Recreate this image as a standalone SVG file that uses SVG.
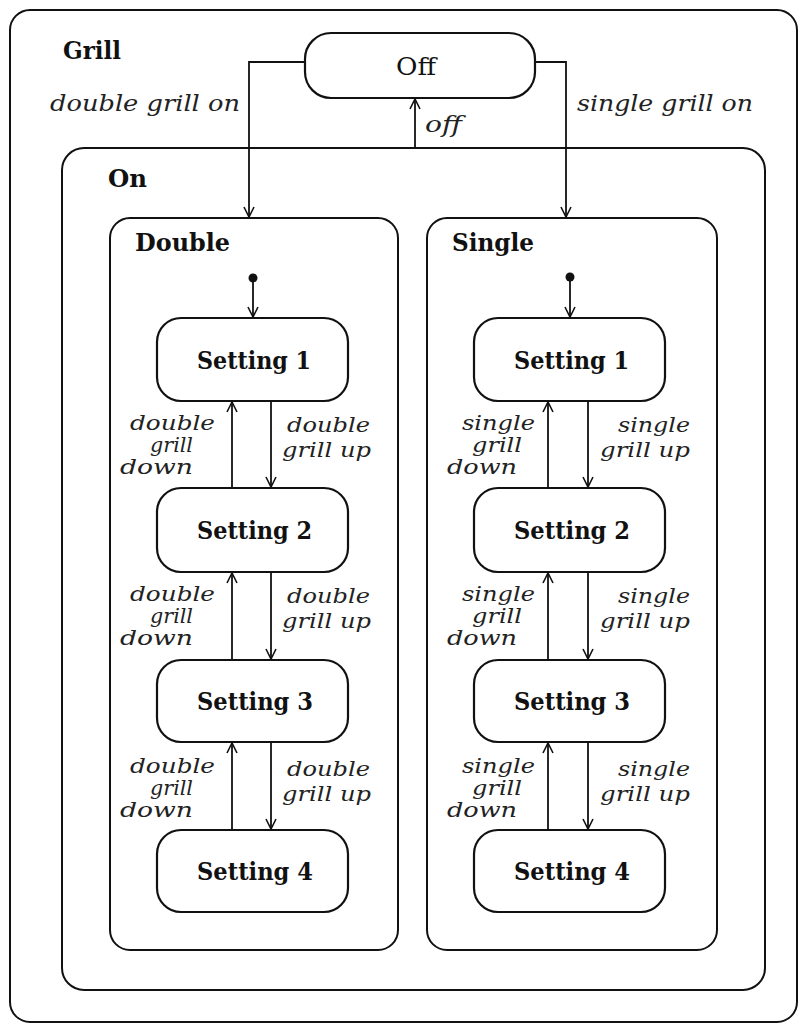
<svg xmlns="http://www.w3.org/2000/svg" width="806" height="1027" viewBox="0 0 806 1027">
<style>
.box{fill:none;stroke:#111;stroke-width:2}
.st{fill:#fff;stroke:#111;stroke-width:2.2}
.ln{fill:none;stroke:#111;stroke-width:1.8}
.nm{font-family:"DejaVu Serif","Liberation Serif",serif;font-weight:bold;font-size:24px;fill:#111}
.of{font-family:"DejaVu Serif","Liberation Serif",serif;font-size:25px;fill:#111}
.hd{font-family:"DejaVu Serif","Liberation Serif",serif;font-weight:bold;font-size:25px;fill:#111}
.lb{font-family:"DejaVu Serif","Liberation Serif",serif;font-style:italic;font-size:21px;fill:#222}
.lt{font-family:"DejaVu Serif","Liberation Serif",serif;font-style:italic;font-size:22px;fill:#222}
</style>
<defs>
<marker id="arr" viewBox="0 0 12 12" refX="11" refY="6" markerWidth="12" markerHeight="12" markerUnits="userSpaceOnUse" orient="auto">
<path d="M1,1 L11,6 L1,11" fill="none" stroke="#111" stroke-width="1.6"/>
</marker>
</defs>
<rect width="806" height="1027" fill="#fff"/>
<g id="grill"><rect class="box" x="10" y="10" width="787" height="1012" rx="20"/><text class="hd" x="63" y="59" textLength="58" lengthAdjust="spacingAndGlyphs">Grill</text></g>
<g id="off"><rect class="st" x="305" y="33" width="230" height="65" rx="26"/><text class="of" x="396" y="75" textLength="40" lengthAdjust="spacingAndGlyphs">Off</text></g>
<g id="on"><rect class="box" x="62" y="148" width="703" height="842" rx="22"/><text class="hd" x="108" y="187" textLength="39" lengthAdjust="spacingAndGlyphs">On</text></g>
<g id="double"><rect class="box" x="110" y="218" width="288" height="732" rx="20"/><text class="hd" x="135" y="251" textLength="95" lengthAdjust="spacingAndGlyphs">Double</text></g>
<g id="single"><rect class="box" x="427" y="218" width="290" height="732" rx="20"/><text class="hd" x="452" y="251" textLength="82" lengthAdjust="spacingAndGlyphs">Single</text></g>
<g id="d1"><rect class="st" x="157" y="318" width="191" height="83" rx="24"/><text class="nm" x="197" y="369" textLength="114" lengthAdjust="spacingAndGlyphs">Setting 1</text></g>
<g id="d2"><rect class="st" x="157" y="488" width="191" height="84" rx="24"/><text class="nm" x="197" y="539" textLength="115" lengthAdjust="spacingAndGlyphs">Setting 2</text></g>
<g id="d3"><rect class="st" x="157" y="660" width="191" height="82" rx="24"/><text class="nm" x="197" y="710" textLength="116" lengthAdjust="spacingAndGlyphs">Setting 3</text></g>
<g id="d4"><rect class="st" x="157" y="830" width="191" height="82" rx="24"/><text class="nm" x="197" y="880" textLength="116" lengthAdjust="spacingAndGlyphs">Setting 4</text></g>
<g id="s1"><rect class="st" x="474" y="318" width="191" height="83" rx="24"/><text class="nm" x="514" y="369" textLength="115" lengthAdjust="spacingAndGlyphs">Setting 1</text></g>
<g id="s2"><rect class="st" x="474" y="488" width="191" height="84" rx="24"/><text class="nm" x="514" y="539" textLength="116" lengthAdjust="spacingAndGlyphs">Setting 2</text></g>
<g id="s3"><rect class="st" x="474" y="660" width="191" height="82" rx="24"/><text class="nm" x="514" y="710" textLength="116" lengthAdjust="spacingAndGlyphs">Setting 3</text></g>
<g id="s4"><rect class="st" x="474" y="830" width="191" height="82" rx="24"/><text class="nm" x="514" y="880" textLength="116" lengthAdjust="spacingAndGlyphs">Setting 4</text></g>
<g id="connectors">
<polyline class="ln" points="305,62 249,62 249,217" marker-end="url(#arr)"/>
<polyline class="ln" points="535,62 566,62 566,217" marker-end="url(#arr)"/>
<line class="ln" x1="415" y1="148" x2="415" y2="99" marker-end="url(#arr)"/>
<circle cx="253" cy="278" r="4.5" fill="#111"/>
<line class="ln" x1="253" y1="278" x2="253" y2="317" marker-end="url(#arr)"/>
<circle cx="570" cy="277" r="4.5" fill="#111"/>
<line class="ln" x1="570" y1="277" x2="570" y2="317" marker-end="url(#arr)"/>
<line class="ln" x1="232" y1="488" x2="232" y2="402" marker-end="url(#arr)"/>
<line class="ln" x1="271" y1="401" x2="271" y2="487" marker-end="url(#arr)"/>
<line class="ln" x1="232" y1="660" x2="232" y2="573" marker-end="url(#arr)"/>
<line class="ln" x1="271" y1="572" x2="271" y2="659" marker-end="url(#arr)"/>
<line class="ln" x1="232" y1="830" x2="232" y2="743" marker-end="url(#arr)"/>
<line class="ln" x1="271" y1="742" x2="271" y2="829" marker-end="url(#arr)"/>
<line class="ln" x1="548" y1="488" x2="548" y2="402" marker-end="url(#arr)"/>
<line class="ln" x1="588" y1="401" x2="588" y2="487" marker-end="url(#arr)"/>
<line class="ln" x1="548" y1="660" x2="548" y2="573" marker-end="url(#arr)"/>
<line class="ln" x1="588" y1="572" x2="588" y2="659" marker-end="url(#arr)"/>
<line class="ln" x1="548" y1="830" x2="548" y2="743" marker-end="url(#arr)"/>
<line class="ln" x1="588" y1="742" x2="588" y2="829" marker-end="url(#arr)"/>
</g>
<g id="labels">
<text class="lt" x="50" y="111" textLength="190" lengthAdjust="spacingAndGlyphs">double grill on</text>
<text class="lt" x="577" y="111" textLength="176" lengthAdjust="spacingAndGlyphs">single grill on</text>
<text class="lt" x="425" y="132" textLength="37" lengthAdjust="spacingAndGlyphs">off</text>

<text class="lb" x="130" y="430" textLength="85" lengthAdjust="spacingAndGlyphs">double</text>
<text class="lb" x="150" y="452" textLength="43" lengthAdjust="spacingAndGlyphs">grill</text>
<text class="lb" x="120" y="474" textLength="73" lengthAdjust="spacingAndGlyphs">down</text>
<text class="lb" x="287" y="432" textLength="83" lengthAdjust="spacingAndGlyphs">double</text>
<text class="lb" x="282" y="457" textLength="89" lengthAdjust="spacingAndGlyphs">grill up</text>

<text class="lb" x="130" y="601" textLength="85" lengthAdjust="spacingAndGlyphs">double</text>
<text class="lb" x="150" y="623" textLength="43" lengthAdjust="spacingAndGlyphs">grill</text>
<text class="lb" x="120" y="645" textLength="73" lengthAdjust="spacingAndGlyphs">down</text>
<text class="lb" x="287" y="603" textLength="83" lengthAdjust="spacingAndGlyphs">double</text>
<text class="lb" x="282" y="628" textLength="89" lengthAdjust="spacingAndGlyphs">grill up</text>

<text class="lb" x="130" y="773" textLength="85" lengthAdjust="spacingAndGlyphs">double</text>
<text class="lb" x="150" y="795" textLength="43" lengthAdjust="spacingAndGlyphs">grill</text>
<text class="lb" x="120" y="817" textLength="73" lengthAdjust="spacingAndGlyphs">down</text>
<text class="lb" x="287" y="776" textLength="83" lengthAdjust="spacingAndGlyphs">double</text>
<text class="lb" x="282" y="801" textLength="89" lengthAdjust="spacingAndGlyphs">grill up</text>

<text class="lb" x="462" y="430" textLength="73" lengthAdjust="spacingAndGlyphs">single</text>
<text class="lb" x="472" y="452" textLength="50" lengthAdjust="spacingAndGlyphs">grill</text>
<text class="lb" x="447" y="474" textLength="70" lengthAdjust="spacingAndGlyphs">down</text>
<text class="lb" x="618" y="432" textLength="72" lengthAdjust="spacingAndGlyphs">single</text>
<text class="lb" x="600" y="457" textLength="90" lengthAdjust="spacingAndGlyphs">grill up</text>

<text class="lb" x="462" y="601" textLength="73" lengthAdjust="spacingAndGlyphs">single</text>
<text class="lb" x="472" y="623" textLength="50" lengthAdjust="spacingAndGlyphs">grill</text>
<text class="lb" x="447" y="645" textLength="70" lengthAdjust="spacingAndGlyphs">down</text>
<text class="lb" x="618" y="603" textLength="72" lengthAdjust="spacingAndGlyphs">single</text>
<text class="lb" x="600" y="628" textLength="90" lengthAdjust="spacingAndGlyphs">grill up</text>

<text class="lb" x="462" y="773" textLength="73" lengthAdjust="spacingAndGlyphs">single</text>
<text class="lb" x="472" y="795" textLength="50" lengthAdjust="spacingAndGlyphs">grill</text>
<text class="lb" x="447" y="817" textLength="70" lengthAdjust="spacingAndGlyphs">down</text>
<text class="lb" x="618" y="776" textLength="72" lengthAdjust="spacingAndGlyphs">single</text>
<text class="lb" x="600" y="801" textLength="90" lengthAdjust="spacingAndGlyphs">grill up</text>
</g>
</svg>
